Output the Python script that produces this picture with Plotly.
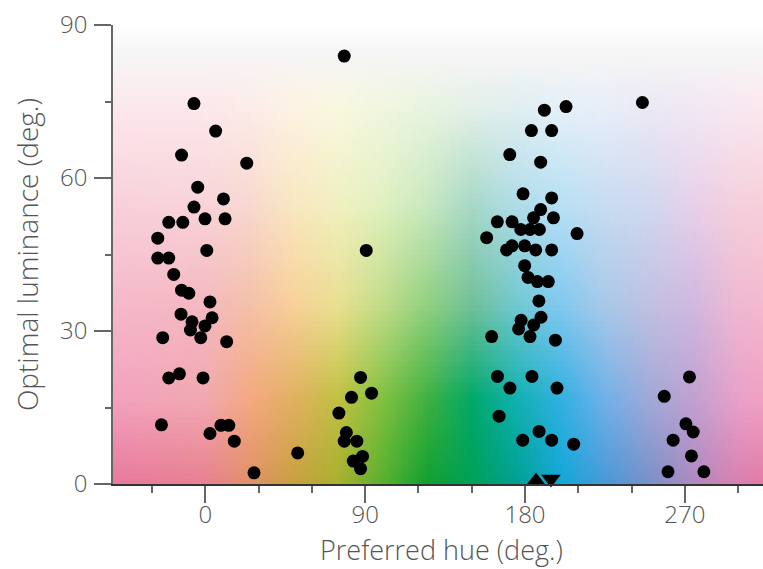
import numpy as np
import plotly.graph_objects as go

# ---------------- data ----------------
preferred_hue = [
    # cluster around 0 deg
    -6.4, 5.8, -13.4, 23.3, -4.3, 10.2, -6.4, -20.6, -12.7, -0.2, 11.1, -26.8,
    0.8, -26.8, -20.6, -17.8, -13.4, -9.3, 2.6, -13.7, -7.5, 3.8, -0.2, -8.4,
    -24.0, -2.6, 12.0, -14.6, -20.6, -1.3, -24.7, 8.8, 13.2, 2.6, 16.3, 27.4,
    52.0,
    # cluster around 90 deg
    78.2, 90.6, 87.4, 93.6, 82.3, 75.2, 79.4, 78.2, 85.3, 88.5, 83.3, 87.4,
    # cluster around 180 deg
    203.1, 190.9, 183.6, 195.0, 171.4, 188.8, 178.9, 195.0, 188.8, 184.8, 196.0,
    164.4, 172.7, 177.6, 182.8, 188.1, 209.3, 158.4, 172.7, 169.6, 179.8, 186.0,
    195.0, 179.8, 181.7, 187.0, 193.1, 187.8, 189.0, 177.8, 176.4, 184.9, 161.2,
    182.8, 197.1, 164.5, 183.9, 171.5, 198.0, 165.4, 187.9, 178.7, 195.0, 207.4,
    # outliers / cluster around 270 deg
    246.1, 272.6, 258.4, 270.6, 274.7, 263.4, 273.7, 260.5, 280.7,
]
optimal_luminance = [
    74.6, 69.2, 64.5, 62.9, 58.2, 55.9, 54.3, 51.3, 51.3, 52.0, 52.0, 48.2,
    45.8, 44.3, 44.3, 41.1, 38.0, 37.4, 35.7, 33.3, 31.8, 32.6, 31.0, 30.2,
    28.7, 28.7, 27.9, 21.6, 20.8, 20.8, 11.6, 11.5, 11.5, 9.9, 8.4, 2.2,
    6.1,
    83.9, 45.8, 20.9, 17.8, 17.0, 13.9, 10.1, 8.4, 8.4, 5.4, 4.5, 3.0,
    74.0, 73.3, 69.3, 69.3, 64.6, 63.1, 56.9, 56.1, 53.8, 52.2, 52.2,
    51.4, 51.4, 49.9, 49.9, 49.9, 49.1, 48.3, 46.7, 45.9, 46.7, 45.9,
    45.9, 42.8, 40.5, 39.7, 39.7, 35.9, 32.7, 32.1, 30.4, 31.2, 28.9,
    28.9, 28.2, 21.1, 21.1, 18.8, 18.8, 13.3, 10.3, 8.6, 8.6, 7.8,
    74.8, 21.0, 17.2, 11.8, 10.2, 8.6, 5.5, 2.4, 2.4,
]
# mean markers near the hue axis
mean_up_hue = [186.2]
mean_up_lum = [0.6]
mean_down_hue = [194.6]
mean_down_lum = [1.0]

x_tick_vals = [0, 90, 180, 270]
x_tick_text = ["0", "90", "180", "270"]
x_minor_vals = [-30, 30, 60, 120, 150, 210, 240, 300]
y_tick_vals = [0, 30, 60, 90]
y_tick_text = ["0", "30", "60", "90"]
y_minor_vals = [15, 45, 75]
x_title = "Preferred hue (deg.)"
y_title = "Optimal luminance (deg.)"

X_RANGE = [-52, 314]
Y_RANGE = [0, 90]

# ---------------- decorative hue/luminance background ----------------
hue_stops = [-60, 0, 25, 50, 75, 100, 125, 150, 175, 200, 225, 250, 275, 300, 320]
lum_rows = {
    0.0: ["#e878a0", "#e88090", "#e09068", "#c8a040", "#a8b030", "#58b030", "#10a030",
          "#00a058", "#00a090", "#10a8d8", "#4898d8", "#7890c8", "#b088c0", "#d880b0", "#e878a0"],
    16.5: ["#f4a0c0", "#f0a8b0", "#f4a880", "#e0b060", "#c0c040", "#80c040", "#40b040",
           "#00a868", "#10b0b0", "#30b0e0", "#70b0e8", "#a0a8d8", "#c0a0d0", "#e8a0c8", "#f4a0c0"],
    35.0: ["#f5b8cc", "#f4b8c0", "#f4c0a8", "#f8d098", "#e8e090", "#c0dc88", "#90d080",
           "#70c098", "#70c8d0", "#80c8f0", "#a8c8e8", "#c0c0e0", "#d0b8e0", "#f0b8d0", "#f5b8cc"],
    55.0: ["#f8d0dc", "#f8d4d8", "#f8d8d0", "#f8e8c0", "#f0f0c0", "#e0f0c0", "#c8e8c0",
           "#a8d8c8", "#b0dce8", "#b8e0f4", "#c8dcf0", "#d0d8f0", "#e8d0e8", "#f4d0dc", "#f8d0dc"],
    74.0: ["#fce8ec", "#fce8ec", "#fcece8", "#fdf2e4", "#f8f8e0", "#f0f6e0", "#e8f4e0",
           "#e4f0e8", "#e0eef0", "#e4f0f8", "#e8eef8", "#ece8f4", "#f0e8f4", "#f8e8f0", "#fce8ec"],
    84.0: ["#f6f5f5"] * 15,
    88.0: ["#fbfbfb"] * 15,
    90.0: ["#ffffff"] * 15,
}


def hex2rgb(h):
    return [int(h[1:3], 16), int(h[3:5], 16), int(h[5:7], 16)]


lum_levels = sorted(lum_rows.keys())
row_rgb = np.array([[hex2rgb(c) for c in lum_rows[l]] for l in lum_levels], dtype=float)

dh, dl = 2.0, 1.0
hues = np.arange(X_RANGE[0] + dh / 2, X_RANGE[1], dh)
lums = np.arange(Y_RANGE[0] + dl / 2, Y_RANGE[1], dl)
per_level = np.stack([
    np.stack([np.interp(hues, hue_stops, row_rgb[i, :, ch]) for ch in range(3)], axis=-1)
    for i in range(len(lum_levels))
])  # (levels, nh, 3)
img = np.zeros((len(lums), len(hues), 3))
for ch in range(3):
    for j in range(len(hues)):
        img[:, j, ch] = np.interp(lums, lum_levels, per_level[:, j, ch])
img = np.clip(np.round(img), 0, 255).astype(np.uint8)

fig = go.Figure()
fig.add_trace(go.Image(z=img, x0=float(hues[0]), dx=dh, y0=float(lums[0]), dy=dl,
                       hoverinfo="skip"))
fig.add_trace(go.Scatter(x=preferred_hue, y=optimal_luminance, mode="markers",
                         marker=dict(color="black", size=13), cliponaxis=False,
                         showlegend=False))
fig.add_trace(go.Scatter(x=mean_up_hue, y=mean_up_lum, mode="markers",
                         marker=dict(color="black", size=17, symbol="triangle-up"),
                         cliponaxis=False, showlegend=False))
fig.add_trace(go.Scatter(x=mean_down_hue, y=mean_down_lum, mode="markers",
                         marker=dict(color="black", size=17, symbol="triangle-down"),
                         cliponaxis=False, showlegend=False))

tick_font = dict(family="Open Sans", size=24, color="#555555", weight=300)
title_font = dict(family="Open Sans", size=28, color="#555555", weight=300)
xtitle_font = dict(family="Open Sans", size=27, color="#555555", weight=300)

fig.update_layout(
    width=763, height=569,
    margin=dict(l=113, r=0, t=25, b=85),
    paper_bgcolor="white", plot_bgcolor="white",
    showlegend=False,
    xaxis=dict(range=X_RANGE, autorange=False, scaleanchor=False, constrain="range",
               tickmode="array", tickvals=x_tick_vals, ticktext=x_tick_text,
               ticks="outside", ticklen=17, tickwidth=1.5, tickcolor="#666666",
               ticklabelstandoff=-9,
               minor=dict(tickmode="array", tickvals=x_minor_vals,
                          ticks="outside", ticklen=7, tickwidth=1.5, tickcolor="#666666"),
               showgrid=False, zeroline=False, showline=True, linecolor="#333333", linewidth=1.5,
               tickfont=tick_font),
    yaxis=dict(range=Y_RANGE, autorange=False, scaleanchor=False, constrain="range",
               tickmode="array", tickvals=y_tick_vals, ticktext=y_tick_text,
               ticks="outside", ticklen=17, tickwidth=1.5, tickcolor="#666666",
               ticklabelstandoff=2,
               minor=dict(tickmode="array", tickvals=y_minor_vals,
                          ticks="outside", ticklen=6, tickwidth=1.5, tickcolor="#666666"),
               showgrid=False, zeroline=False, showline=True, linecolor="#666666", linewidth=1.5,
               tickfont=tick_font,
               title=dict(text=y_title, font=title_font, standoff=13)),
    annotations=[dict(text=x_title, xref="paper", yref="paper", x=0.5, xshift=3,
                      y=-(568.5 - 484) / 459, yanchor="bottom", xanchor="center",
                      showarrow=False, font=xtitle_font, borderpad=0)],
)

fig.write_html("out.html")
